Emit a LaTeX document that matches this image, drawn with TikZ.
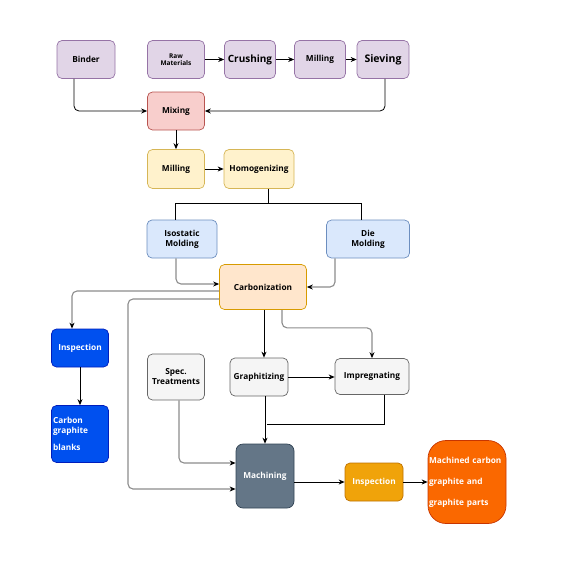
\documentclass[tikz,border=0pt]{standalone}
\usepackage{fontspec}
\setmainfont{Open Sans}
\usetikzlibrary{arrows.meta,calc}
\definecolor{purF}{HTML}{E1D5E7}\definecolor{purS}{HTML}{9673A6}
\definecolor{redF}{HTML}{F8CECC}\definecolor{redS}{HTML}{B85450}
\definecolor{yelF}{HTML}{FFF2CC}\definecolor{yelS}{HTML}{D6B656}
\definecolor{bluF}{HTML}{DAE8FC}\definecolor{bluS}{HTML}{6C8EBF}
\definecolor{orgF}{HTML}{FFE6CC}\definecolor{orgS}{HTML}{D79B00}
\definecolor{dbF}{HTML}{0050EF}\definecolor{dbS}{HTML}{001DBC}
\definecolor{gryF}{HTML}{F5F5F5}\definecolor{gryS}{HTML}{666666}
\definecolor{slF}{HTML}{647687}\definecolor{slS}{HTML}{314354}
\definecolor{amF}{HTML}{F0A30A}\definecolor{amS}{HTML}{BD7000}
\definecolor{ogF}{HTML}{FA6800}\definecolor{ogS}{HTML}{C73500}
\definecolor{edgeg}{HTML}{8C8C8C}
\begin{document}
\begin{tikzpicture}[x=1pt,y=-1pt,
  box/.style={draw, rounded corners=5pt, line width=0.7pt, align=center, inner sep=1pt,
    font=\bfseries\fontsize{8.3}{10}\selectfont},
  pur/.style={box, fill=purF, draw=purS},
  redb/.style={box, fill=redF, draw=redS},
  yel/.style={box, fill=yelF, draw=yelS},
  blu/.style={box, fill=bluF, draw=bluS},
  org/.style={box, fill=orgF, draw=orgS},
  dblu/.style={box, fill=dbF, draw=dbS, text=white},
  gry/.style={box, fill=gryF, draw=gryS},
  slate/.style={box, fill=slF, draw=slS, text=white, rounded corners=7pt},
  amb/.style={box, fill=amF, draw=amS, text=white},
  ora/.style={box, fill=ogF, draw=ogS, text=white, rounded corners=18pt},
  arr/.style={draw=black, line width=0.8pt, -{Stealth[length=6pt,width=5pt]}, rounded corners=5pt},
  garr/.style={draw=edgeg, line width=1.1pt, -{Stealth[length=6pt,width=5pt,color=black]}, rounded corners=5pt},
  ln/.style={draw=black, line width=0.8pt}
]
\useasboundingbox (0,0) rectangle (588,565);
% top row
\node[pur, minimum width=58pt, minimum height=38pt] (binder) at (86,59.5) {Binder};
\node[pur, minimum width=57pt, minimum height=38pt, font=\bfseries\fontsize{6.5}{7.5}\selectfont] (raw) at (176,59.5) {Raw\\Materials};
\node[pur, minimum width=51pt, minimum height=38pt, font=\bfseries\fontsize{10}{12}\selectfont] (crush) at (250,59.5) {Crushing};
\node[pur, minimum width=51pt, minimum height=38pt] (mill1) at (320,59.5) {Milling};
\node[pur, minimum width=52pt, minimum height=38pt, font=\bfseries\fontsize{10.5}{12}\selectfont] (sieve) at (383,59.5) {Sieving};
\node[redb, minimum width=57pt, minimum height=38pt] (mix) at (176,111) {Mixing};
\node[yel, minimum width=57pt, minimum height=39pt] (mill2) at (176,169) {Milling};
\node[yel, minimum width=70pt, minimum height=39pt] (homog) at (259,169) {Homogenizing};
\node[blu, minimum width=70pt, minimum height=38pt] (iso) at (182,239) {Isostatic\\Molding};
\node[blu, minimum width=83pt, minimum height=38pt] (die) at (368,239) {Die\\Molding};
\node[org, minimum width=87pt, minimum height=45pt] (carb) at (263,287) {Carbonization};
\node[dblu, minimum width=57pt, minimum height=38pt] (inspb) at (80,348) {Inspection};
\node[dblu, minimum width=57pt, minimum height=57pt, text width=54pt, align=left] (blanks) at (80,434) {Carbon\\graphite\\[7pt]blanks};
\node[gry, minimum width=57pt, minimum height=46pt] (spec) at (176,377) {Spec.\\Treatments};
\node[gry, minimum width=58pt, minimum height=38pt] (graph) at (259,377) {Graphitizing};
\node[gry, minimum width=74pt, minimum height=36pt] (impreg) at (372,376.5) {Impregnating};
\node[slate, minimum width=58pt, minimum height=64pt] (mach) at (265,476) {Machining};
\node[amb, minimum width=58pt, minimum height=38pt] (inspo) at (374,482) {Inspection};
\node[ora, minimum width=78pt, minimum height=83pt, text width=76pt, align=left, font=\bfseries\fontsize{8.3}{21}\selectfont] (final) at (467,482) {Machined carbon\\graphite and\\graphite parts};
% edges
\draw[arr] (raw) -- (crush);
\draw[arr] (crush) -- (mill1);
\draw[arr] (mill1) -- (sieve);
\draw[arr] ([xshift=-12pt]binder.south) |- (mix.west);
\draw[arr] ([xshift=2pt]sieve.south) |- (mix.east);
\draw[arr] (mix) -- (mill2);
\draw[arr] (mill2) -- (homog);
\coordinate (hj) at ($(homog.south)+(9,15)$);
\draw[ln] ([xshift=9pt]homog.south) -- (hj);
\draw[ln] ([xshift=-7pt]iso.north) |- (hj) -| ([xshift=-7pt]die.north);
\draw[garr] ([xshift=-6pt]iso.south) |- ([yshift=3pt]carb.west);
\draw[garr] ([xshift=-33pt]die.south) |- (carb.east);
\draw[garr] ([yshift=-4pt]carb.west) -| ([xshift=-8pt]inspb.north);
\coordinate (lc) at (128,299);
\draw[garr] ([yshift=-12pt]carb.west) -- (lc) |- ([yshift=-13pt]mach.west);
\draw[arr] ([xshift=1pt]carb.south) -- ([xshift=1pt]carb.south |- graph.north);
\draw[garr] ([xshift=19pt]carb.south) -- ++(0,18) -| (impreg.north);
\draw[arr] (graph.east) -- (graph.east -| impreg.west);
\draw[arr] (mach.north |- graph.south) -- (mach.north);
\draw[ln] ([xshift=12pt]impreg.south) |- ($(mach.north)+(2,-19)$);
\draw[garr] ([xshift=3pt]spec.south) |- ([yshift=13pt]mach.west);
\draw[arr] (inspb) -- (blanks);
\draw[arr] (mach.east |- inspo.west) -- (inspo.west);
\draw[arr] (inspo) -- (final);
\end{tikzpicture}
\end{document}
